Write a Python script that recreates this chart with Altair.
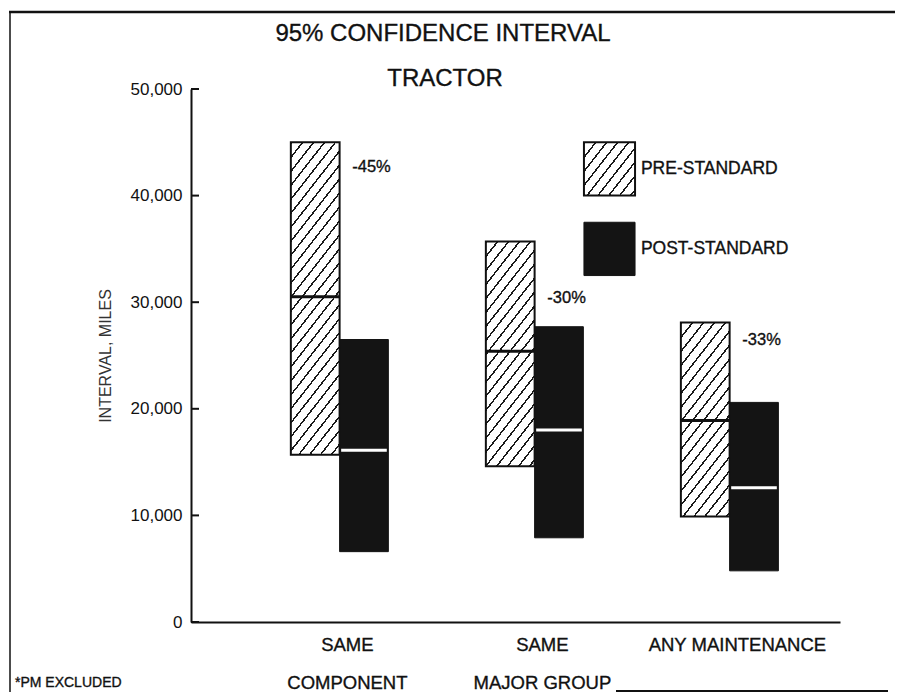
import math
import altair as alt
import pandas as pd

# ---------------- data ----------------
groups = [0, 1, 2]
categories = ["SAME COMPONENT", "SAME MAJOR GROUP", "ANY MAINTENANCE"]
axis_labels = ["SAME\nCOMPONENT", "SAME\nMAJOR GROUP", "ANY MAINTENANCE"]
pre_low = [15700, 14600, 9900]
pre_mid = [30500, 25400, 18900]
pre_high = [45000, 35700, 28100]
post_low = [6600, 7900, 4800]
post_mid = [16100, 18000, 12600]
post_high = [26500, 27700, 20600]
changes = ["-45%", "-30%", "-33%"]
change_y = [42700, 30400, 26500]
y_ticks = [0, 10000, 20000, 30000, 40000, 50000]
series_names = ["PRE-STANDARD", "POST-STANDARD"]

# ---------------- layout / style ----------------
W, H = 649, 533
X_DOM = [-0.762, 2.566]
Y_DOM = [0, 50000]
HALF = 0.25
PX_X = W / (X_DOM[1] - X_DOM[0])
PX_Y = H / (Y_DOM[1] - Y_DOM[0])
FONT = "Liberation Sans"
INK = "#111111"
POST_FILL = "#141414"
TXT = dict(color=INK, stroke=INK, strokeWidth=0.35)

# legend layout (data units)
LEG_X0, LEG_X1, LEG_TX = 1.253, 1.515, 1.545
LEG_Y = [(40000, 45000), (32500, 37500)]


def hatch(w, h, angle=52, period=8.6, lw=1.5, bg="white", fg="#1a1a1a"):
    """Diagonal hatching as a striped linear gradient (bbox units)."""
    t = math.radians(angle)
    s, c = math.sin(t), math.cos(t)
    L = w * s + h * c
    ax, ay = w * s / L, h * c / L
    a2 = ax * ax + ay * ay
    p, f = period / L, lw / L
    stops = []
    k = 0
    while k * p < 1:
        o = k * p
        for off, col in ((o, fg), (o + f, fg), (o + f, bg), (o + p, bg)):
            stops.append({"offset": round(min(off, 1.0), 5), "color": col})
        k += 1
    return {"gradient": "linear", "x1": 0, "y1": 0,
            "x2": ax / a2, "y2": ay / a2, "stops": stops}


xs = alt.Scale(domain=X_DOM, nice=False, zero=False)
ys = alt.Scale(domain=Y_DOM, nice=False, zero=True)
x_axis = alt.Axis(title=None, labels=False, ticks=False, grid=False,
                  domainWidth=2, domainColor=INK)
y_axis = alt.Axis(title="INTERVAL, MILES", values=y_ticks, format=",d",
                  labelFontSize=17, labelColor=INK, labelPadding=9,
                  ticks=False, tickSize=0, grid=False,
                  domainWidth=2, domainColor=INK,
                  titleFontSize=16, titleFontWeight="normal",
                  titleColor="#333333", titlePadding=17)


def X(f):
    return alt.X(f, type="quantitative", scale=xs, axis=x_axis)


def Y(f):
    return alt.Y(f, type="quantitative", scale=ys, axis=y_axis)


df = pd.DataFrame(dict(idx=groups, category=categories, label=axis_labels,
                       pre_low=pre_low, pre_mid=pre_mid, pre_high=pre_high,
                       post_low=post_low, post_mid=post_mid, post_high=post_high,
                       change=changes, change_y=change_y))

base = alt.Chart(df).transform_calculate(
    pre_x0=f"datum.idx - {HALF}",
    post_x1=f"datum.idx + {HALF}",
    med_x0="datum.idx + 0.008",
    med_x1=f"datum.idx + {HALF - 0.008}",
    lab_x="datum.idx + 0.065",
    cat_x="datum.idx + 0.04",
)

layers = []

# pre-standard bars (hatched), one layer each so the hatch angle stays right
for i in groups:
    w = HALF * PX_X
    h = (pre_high[i] - pre_low[i]) * PX_Y
    layers.append(
        base.transform_filter(f"datum.idx == {i}")
        .mark_rect(fill=hatch(w, h), stroke=INK, strokeWidth=2)
        .encode(x=X("pre_x0"), x2="idx:Q", y=Y("pre_low"), y2="pre_high:Q")
    )

layers.append(base.mark_rule(color=INK, strokeWidth=3).encode(
    x=X("pre_x0"), x2="idx:Q", y=Y("pre_mid")))

layers.append(base.mark_rect(fill=POST_FILL, stroke=POST_FILL, strokeWidth=1).encode(
    x=X("idx"), x2="post_x1:Q", y=Y("post_low"), y2="post_high:Q"))

layers.append(base.mark_rule(color="white", strokeWidth=3).encode(
    x=X("med_x0"), x2="med_x1:Q", y=Y("post_mid")))

layers.append(base.mark_text(align="left", baseline="middle", fontSize=16.5,
                             **TXT).encode(
    x=X("lab_x"), y=Y("change_y"), text="change:N"))

layers.append(base.mark_text(align="center", baseline="top", fontSize=18.5,
                             lineBreak="\n", lineHeight=38, **TXT).encode(
    x=X("cat_x"), y=alt.value(547), text="label:N"))

# inward y ticks
layers.append(alt.Chart(pd.DataFrame({"v": y_ticks})).mark_rule(
    color=INK, strokeWidth=2).encode(x=alt.value(0), x2=alt.value(8), y=Y("v")))

# legend
leg_w = (LEG_X1 - LEG_X0) * PX_X
leg_h = (LEG_Y[0][1] - LEG_Y[0][0]) * PX_Y
layers.append(alt.Chart(alt.Data(values=[{"x0": LEG_X0, "x1": LEG_X1,
                                          "y0": LEG_Y[0][0], "y1": LEG_Y[0][1]}]))
              .mark_rect(fill=hatch(leg_w, leg_h), stroke=INK, strokeWidth=2)
              .encode(x=X("x0"), x2="x1:Q", y=Y("y0"), y2="y1:Q"))
layers.append(alt.Chart(alt.Data(values=[{"x0": LEG_X0, "x1": LEG_X1,
                                          "y0": LEG_Y[1][0], "y1": LEG_Y[1][1]}]))
              .mark_rect(fill=POST_FILL, stroke=POST_FILL, strokeWidth=1)
              .encode(x=X("x0"), x2="x1:Q", y=Y("y0"), y2="y1:Q"))
leg_txt = pd.DataFrame({"name": series_names, "tx": [LEG_TX, LEG_TX],
                        "ty": [sum(LEG_Y[0]) / 2, sum(LEG_Y[1]) / 2]})
layers.append(alt.Chart(leg_txt).mark_text(align="left", baseline="middle",
                                           fontSize=17.5, **TXT).encode(
    x=X("tx"), y=Y("ty"), text="name:N"))

# titles and footnote
one = alt.Data(values=[{"k": 1}])
layers.append(alt.Chart(one).mark_text(fontSize=24, baseline="middle", **TXT).encode(
    x=alt.value(252), y=alt.value(-55), text=alt.value("95% CONFIDENCE INTERVAL")))
layers.append(alt.Chart(one).mark_text(fontSize=24, baseline="middle", **TXT).encode(
    x=alt.value(254), y=alt.value(-10), text=alt.value("TRACTOR")))
layers.append(alt.Chart(one).mark_text(fontSize=14, align="left",
                                       baseline="middle", **TXT).encode(
    x=alt.value(-176), y=alt.value(594), text=alt.value("*PM EXCLUDED")))

# scanned page border (top, left, and a short piece at the bottom right)
layers.append(alt.Chart(one).mark_rule(color=INK, strokeWidth=2.5).encode(
    x=alt.value(-182), x2=alt.value(704), y=alt.value(-77), y2=alt.value(-77)))
layers.append(alt.Chart(one).mark_rule(color=INK, strokeWidth=1.5).encode(
    x=alt.value(-181), x2=alt.value(-181), y=alt.value(-77), y2=alt.value(603)))
layers.append(alt.Chart(one).mark_rule(color=INK, strokeWidth=2).encode(
    x=alt.value(425), x2=alt.value(697), y=alt.value(602), y2=alt.value(602)))

chart = (
    alt.layer(*layers)
    .properties(width=W, height=H,
                autosize=alt.AutoSizeParams(type="none"),
                padding={"left": 183, "top": 81, "right": 56, "bottom": 70},
                background="white")
    .configure_view(stroke=None)
    .configure_axis(labelFont=FONT, titleFont=FONT)
    .configure_text(font=FONT)
)

chart.save("out.html", embed_options={"renderer": "svg", "actions": False})
